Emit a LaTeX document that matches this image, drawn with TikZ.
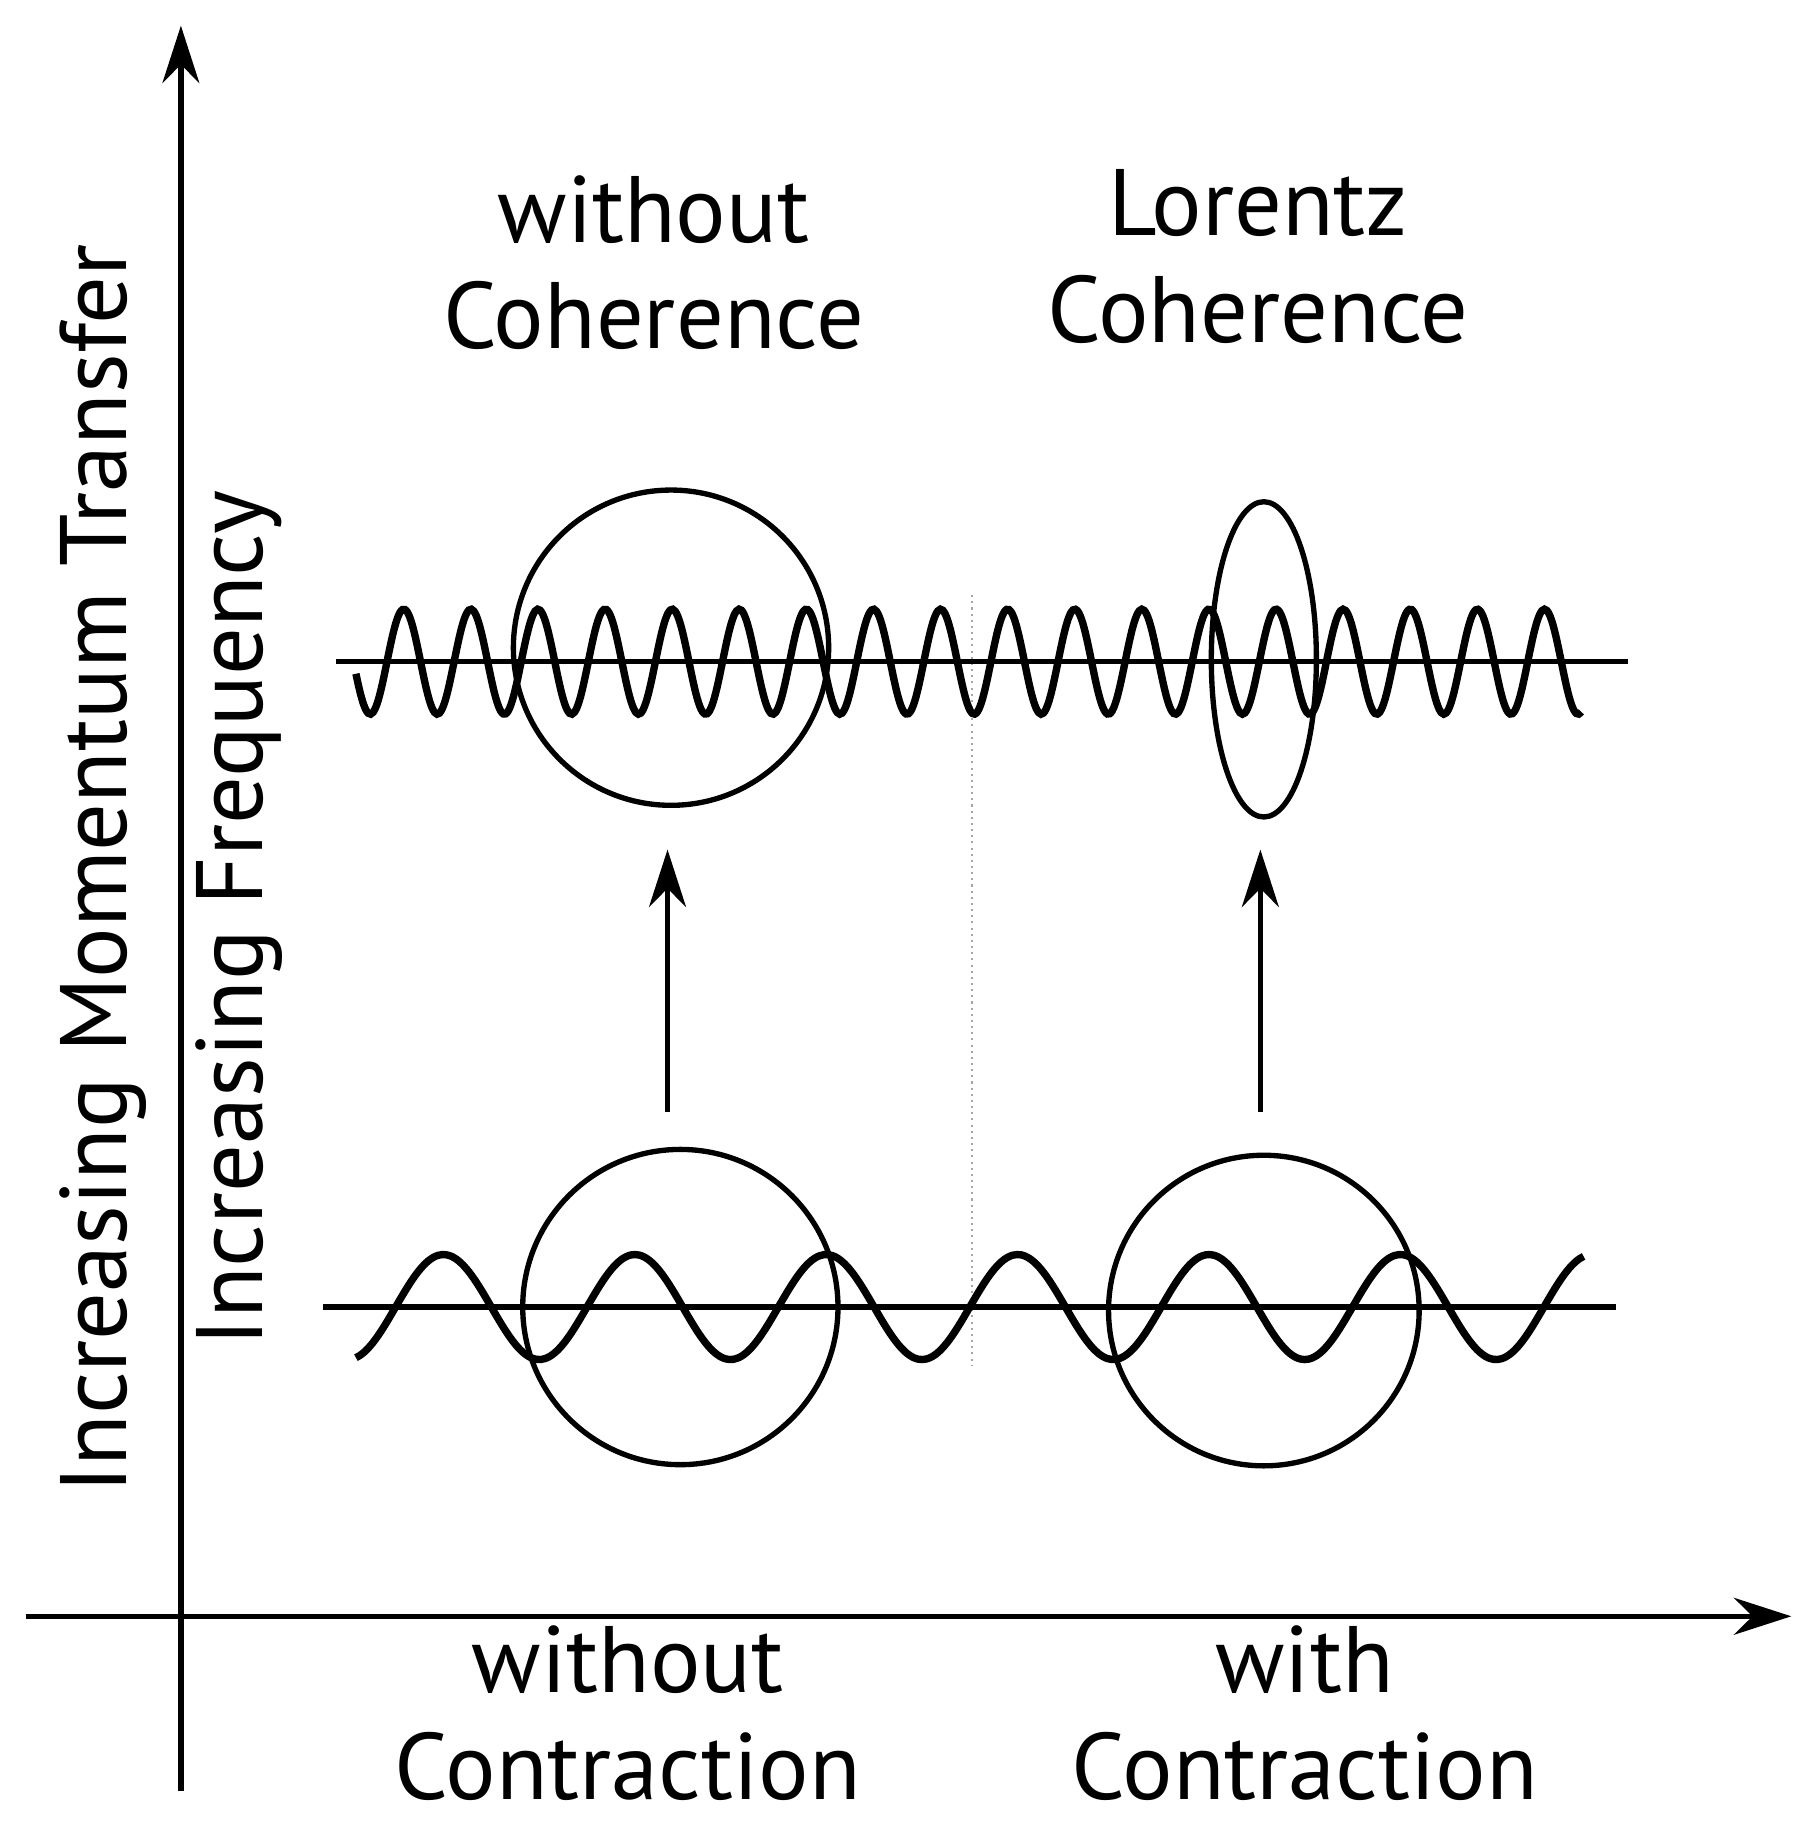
\documentclass[tikz,border=0pt]{standalone}
\usepackage{fontspec}
\setmainfont{PT Sans}
\usetikzlibrary{arrows.meta,shapes.geometric}
\begin{document}
\begin{tikzpicture}[x=0.01cm,y=-0.01cm,
  ln/.style={line width=1.3pt},
  wv/.style={line width=1.8pt},
  ar/.style={ln,-{Stealth[length=14pt,width=9pt]}},
  lbl/.style={font=\fontsize{23}{26}\selectfont,align=center}]
\useasboundingbox (0,0) rectangle (1550,1563);
\coordinate (yb) at (155,1535); \coordinate (yt) at (155,22);
\coordinate (xl) at (22,1385); \coordinate (xr) at (1535,1385);
\draw[ar] (yb) -- (yt);
\draw[ar] (xl) -- (xr);
\draw[gray!70,densely dotted,line width=0.5pt] (833,510) -- (833,1170);
% top
\coordinate (t1) at (288,567); \coordinate (t2) at (1395,567);
\draw[ln] (t1) -- (t2);
\draw[wv,smooth] plot[domain=305:1355,samples=500] (\x,{567-45*cos(6.26087*(\x-346))});
\node[draw,ln,circle,minimum size=2.7cm] (c1) at (575,555) {};
\node[draw,ln,ellipse,minimum width=0.9cm,minimum height=2.7cm,inner sep=0pt] (e1) at (1083,565) {};
% bottom
\coordinate (b1) at (277,1120); \coordinate (b2) at (1385,1120);
\draw[ln] (b1) -- (b2);
\draw[wv,smooth] plot[domain=305:1357,samples=300] (\x,{1120-45*cos(2.19512*(\x-380))});
\node[draw,ln,circle,minimum size=2.7cm] (c2) at (583,1120) {};
\node[draw,ln,circle,minimum size=2.66cm] (c3) at (1083,1123) {};
\coordinate (a1) at (572,953); \coordinate (a2) at (572,728);
\coordinate (a3) at (1080,953); \coordinate (a4) at (1080,728);
\draw[ar] (a1) -- (a2);
\draw[ar] (a3) -- (a4);
\node[lbl] (l1) at (560,225) {without\\Coherence};
\node[lbl] (l2) at (1078,220) {Lorentz\\Coherence};
\node[lbl] (l3) at (538,1468) {without\\Contraction};
\node[lbl] (l4) at (1118,1468) {with\\Contraction};
\node[lbl,rotate=90] (v1) at (88,745) {Increasing Momentum Transfer};
\node[lbl,rotate=90] (v2) at (205,787) {Increasing Frequency};
\end{tikzpicture}
\end{document}
